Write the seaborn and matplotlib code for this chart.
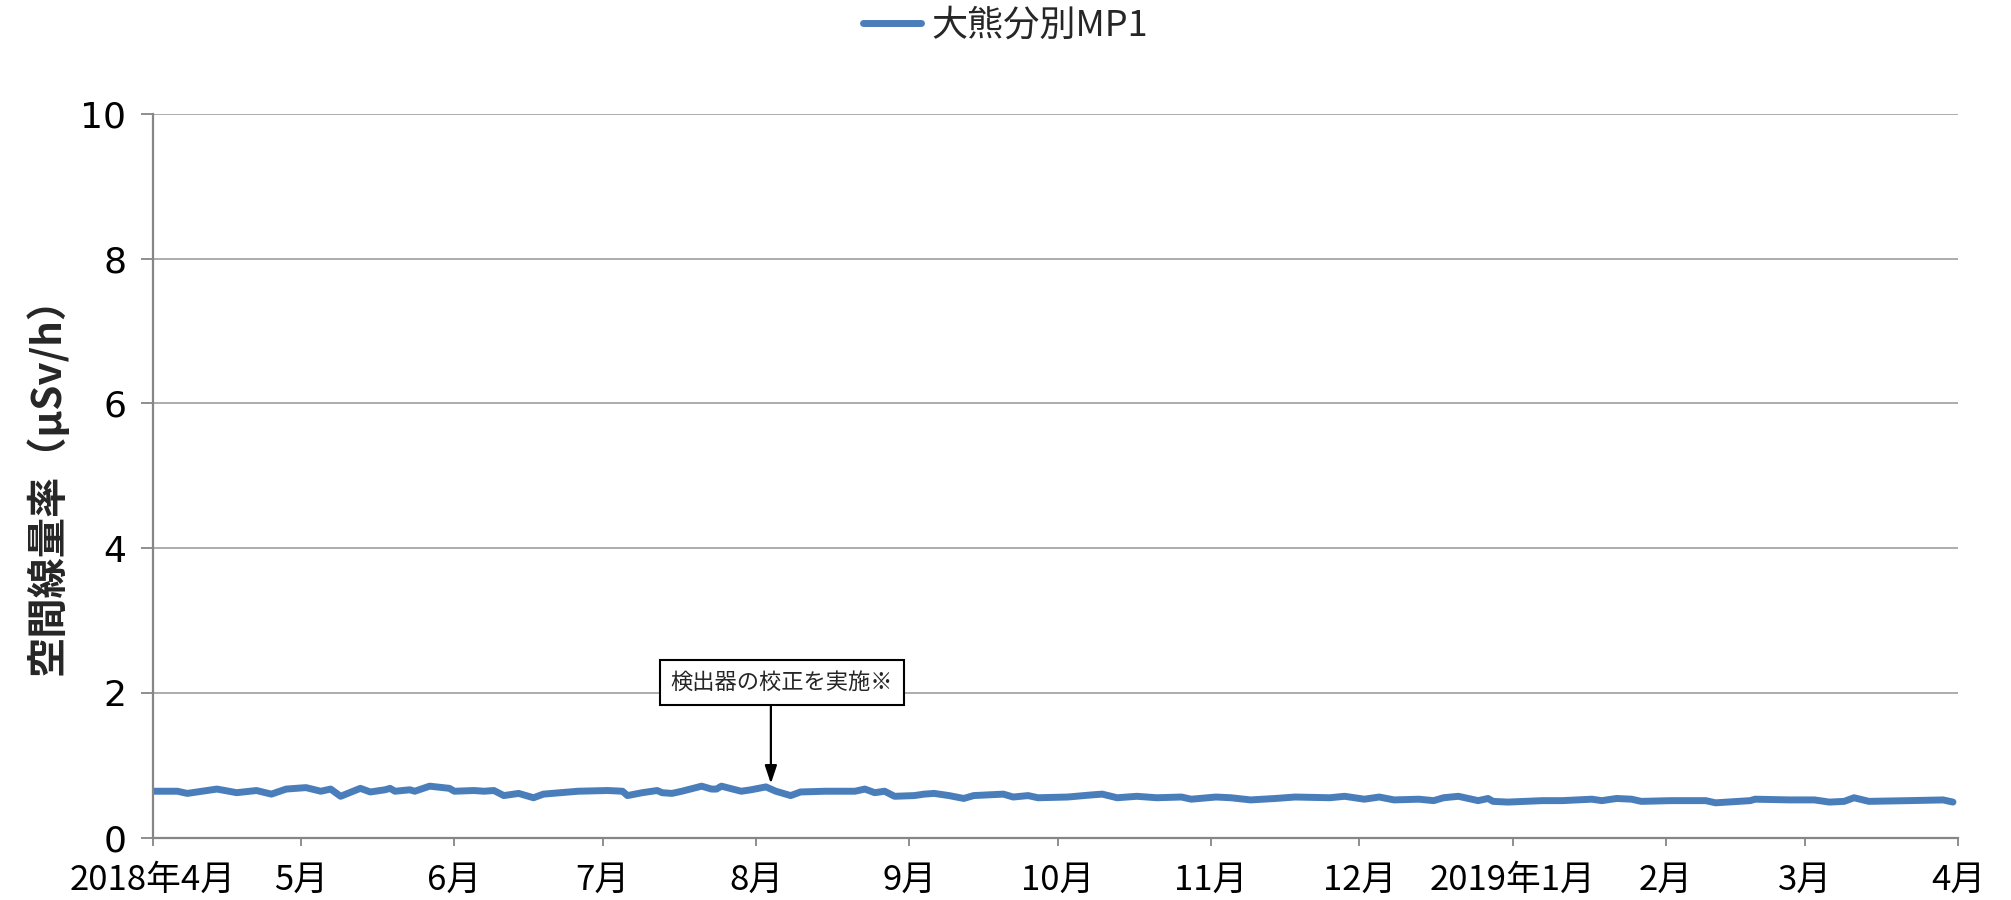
import numpy as np
import pandas as pd
import matplotlib
matplotlib.use("Agg")
import matplotlib.pyplot as plt
import matplotlib.dates as mdates
import seaborn as sns

# ---- data ----
start_date = "2018-04-01"
day_offsets = [0, 5, 7, 12, 13, 17, 21, 24, 27, 31, 34, 36, 38, 42, 44, 47, 48, 49, 52, 53,
               56, 60, 61, 65, 67, 69, 71, 73, 74, 77, 79, 86, 92, 95, 96, 99, 102, 103, 105, 107,
               111, 113, 114, 115, 119, 121, 124, 126, 129, 131, 136, 142, 144, 146, 148, 150, 154, 156, 158, 161,
               164, 166, 172, 174, 177, 179, 185, 190, 192, 195, 199, 203, 208, 210, 215, 218, 222, 227, 231, 238,
               241, 245, 248, 251, 256, 259, 261, 264, 266, 268, 270, 271, 274, 281, 285, 291, 293, 296, 299, 301,
               307, 314, 316, 323, 324, 331, 336, 339, 342, 344, 347, 355, 362, 364]
dose_rate = [0.64, 0.64, 0.61, 0.66, 0.67, 0.62, 0.65, 0.60, 0.67, 0.69, 0.64, 0.67, 0.57, 0.68, 0.63, 0.66, 0.68, 0.64, 0.66, 0.64,
             0.71, 0.68, 0.64, 0.65, 0.64, 0.65, 0.58, 0.60, 0.61, 0.55, 0.60, 0.64, 0.65, 0.64, 0.58, 0.62, 0.65, 0.62, 0.61, 0.64,
             0.71, 0.67, 0.67, 0.71, 0.64, 0.66, 0.70, 0.64, 0.58, 0.63, 0.64, 0.64, 0.67, 0.62, 0.64, 0.57, 0.58, 0.60, 0.61, 0.58,
             0.54, 0.58, 0.60, 0.56, 0.58, 0.55, 0.56, 0.59, 0.60, 0.55, 0.57, 0.55, 0.56, 0.53, 0.56, 0.55, 0.52, 0.54, 0.56, 0.55,
             0.57, 0.53, 0.56, 0.52, 0.53, 0.51, 0.55, 0.57, 0.54, 0.51, 0.54, 0.50, 0.49, 0.51, 0.51, 0.53, 0.51, 0.54, 0.53, 0.50,
             0.51, 0.51, 0.48, 0.51, 0.53, 0.52, 0.52, 0.49, 0.50, 0.55, 0.50, 0.51, 0.52, 0.49]
series_name = "大熊分別MP1"
month_ticks = ["2018-04-01", "2018-05-01", "2018-06-01", "2018-07-01", "2018-08-01", "2018-09-01",
               "2018-10-01", "2018-11-01", "2018-12-01", "2019-01-01", "2019-02-01", "2019-03-01", "2019-04-01"]
month_labels = ["2018年4月", "5月", "6月", "7月", "8月", "9月", "10月", "11月", "12月",
                "2019年1月", "2月", "3月", "4月"]
y_ticks = [0, 2, 4, 6, 8, 10]
y_label = "空間線量率（μSv/h）"
note_text = "検出器の校正を実施※"
note_date = "2018-08-04"
note_value = 0.745

# ---- build frame ----
dates = pd.Timestamp(start_date) + pd.to_timedelta(day_offsets, unit="D")
df = pd.DataFrame({"date": dates, "value": dose_rate, "series": series_name})

sns.set_theme(style="white")
plt.rcParams["font.family"] = ["Noto Sans CJK JP", "DejaVu Sans"]

fig = plt.figure(figsize=(20.11, 9.0), dpi=100)
ax = fig.add_axes([0.0759, 0.0694, 0.8977, 0.8039])

line_color = "#4A7EBB"
sns.lineplot(data=df, x="date", y="value", hue="series", palette=[line_color],
             linewidth=5.0, ax=ax, legend=True)

ax.set_xlim(pd.Timestamp(month_ticks[0]), pd.Timestamp(month_ticks[-1]))
ax.set_ylim(0, 10)
ax.set_yticks(y_ticks)
ax.set_yticklabels([str(t) for t in y_ticks], fontsize=26, family=["DejaVu Sans"])
ax.set_xticks(pd.to_datetime(month_ticks))
ax.set_xticklabels(month_labels, fontsize=25)

ax.grid(axis="y", color="#A6A6A6", linewidth=1.3)
ax.grid(axis="x", visible=False)
for s in ["top", "right"]:
    ax.spines[s].set_visible(False)
for s in ["left", "bottom"]:
    ax.spines[s].set_color("#868686")
    ax.spines[s].set_linewidth(1.6)
ax.tick_params(axis="x", direction="out", length=6, width=1.3, color="#868686", pad=12, labelcolor="black")
ax.tick_params(axis="y", direction="out", length=9, width=1.3, color="#868686", pad=10, labelcolor="black")
ax.tick_params(axis="both", which="both", bottom=True, left=True)

ax.set_xlabel("")
ax.set_ylabel(y_label, fontsize=29, fontweight="bold", labelpad=8)

# annotation
xd = pd.Timestamp(note_date)
ax.annotate("", xy=(xd, note_value), xytext=(xd, 1.86),
            arrowprops=dict(arrowstyle="-|>,head_length=0.9,head_width=0.3", color="black", lw=1.6,
                            shrinkA=0, shrinkB=0))
ax.text(pd.Timestamp("2018-08-06 06:00"), 2.14, note_text, fontsize=16, style="italic",
        ha="center", va="center", zorder=5,
        bbox=dict(boxstyle="square,pad=0.5", facecolor="white", edgecolor="black", linewidth=1.5))

# legend
handles, labels = ax.get_legend_handles_labels()
ax.legend_.remove()
fig.legend(handles, labels, loc="center", bbox_to_anchor=(0.5, 0.972), frameon=False,
           fontsize=26, handlelength=1.6, handletextpad=0.3)

fig.savefig("out.png", dpi=100)
